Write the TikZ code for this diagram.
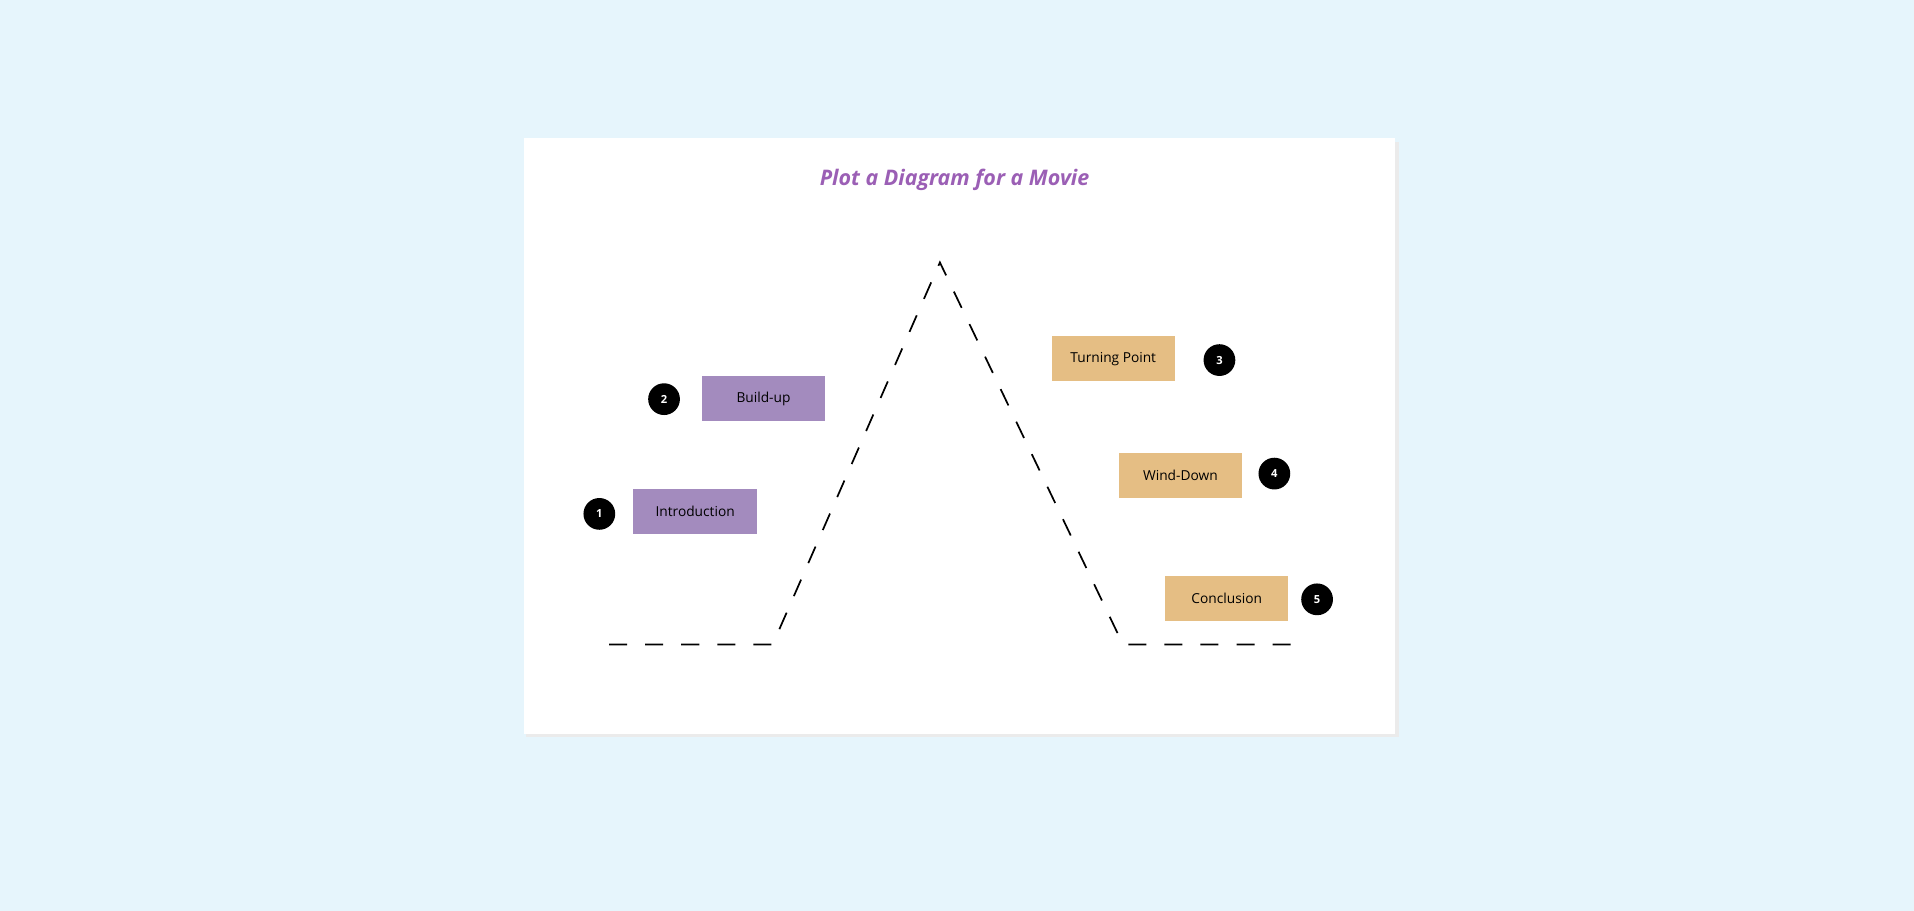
\documentclass[tikz,border=0pt]{standalone}
\usepackage{fontspec}
\setmainfont{Open Sans}
\usepackage{tikz}
\definecolor{bgblue}{HTML}{E6F5FC}
\definecolor{lilac}{HTML}{A38BBE}
\definecolor{sand}{HTML}{E5BE84}
\definecolor{titlepurple}{HTML}{9B5FB5}
\tikzset{
  stage/.style={draw=none, minimum width=1.01cm, minimum height=0.37cm, inner sep=0pt, font=\fontsize{3.2}{4}\selectfont},
  num/.style={circle, fill=black, text=white, minimum size=0.26cm, inner sep=0pt, font=\fontsize{2.6}{3}\selectfont\bfseries},
}
\begin{document}
\begin{tikzpicture}[x=0.01cm, y=-0.01cm]

% background and card
\fill[bgblue] (0,0) rectangle (1568,746);
\fill[black!8] (431,116) rectangle (1146,604);
\fill[white] (429,113) rectangle (1143,601);
\useasboundingbox (0,0) rectangle (1568,746);

\node[text=titlepurple, font=\fontsize{5}{6}\selectfont\bfseries\itshape] (title) at (782,147) {Plot a Diagram for a Movie};

% plot line
\coordinate (startA) at (499,528);
\coordinate (riseA) at (633,528);
\coordinate (peak) at (770,215);
\coordinate (fallB) at (920,528);
\coordinate (endB) at (1062,528);
\draw[black, thin, dash pattern=on 4.2pt off 4.2pt] (startA) -- (riseA) -- (peak) -- (fallB) -- (endB);

% stages
\node[stage, fill=lilac] (intro) at (569.5,419) {Introduction};
\node[stage, fill=lilac] (buildup) at (625.5,326.5) {Build-up};
\node[stage, fill=sand] (turning) at (912,294) {Turning Point};
\node[stage, fill=sand] (winddown) at (967,389.5) {Wind-Down};
\node[stage, fill=sand] (conclusion) at (1005,490.5) {Conclusion};

% numbers
\node[num] (n1) at (491,421) {1};
\node[num] (n2) at (544,327) {2};
\node[num] (n3) at (999,295) {3};
\node[num] (n4) at (1044,388) {4};
\node[num] (n5) at (1079,491) {5};

\end{tikzpicture}
\end{document}
